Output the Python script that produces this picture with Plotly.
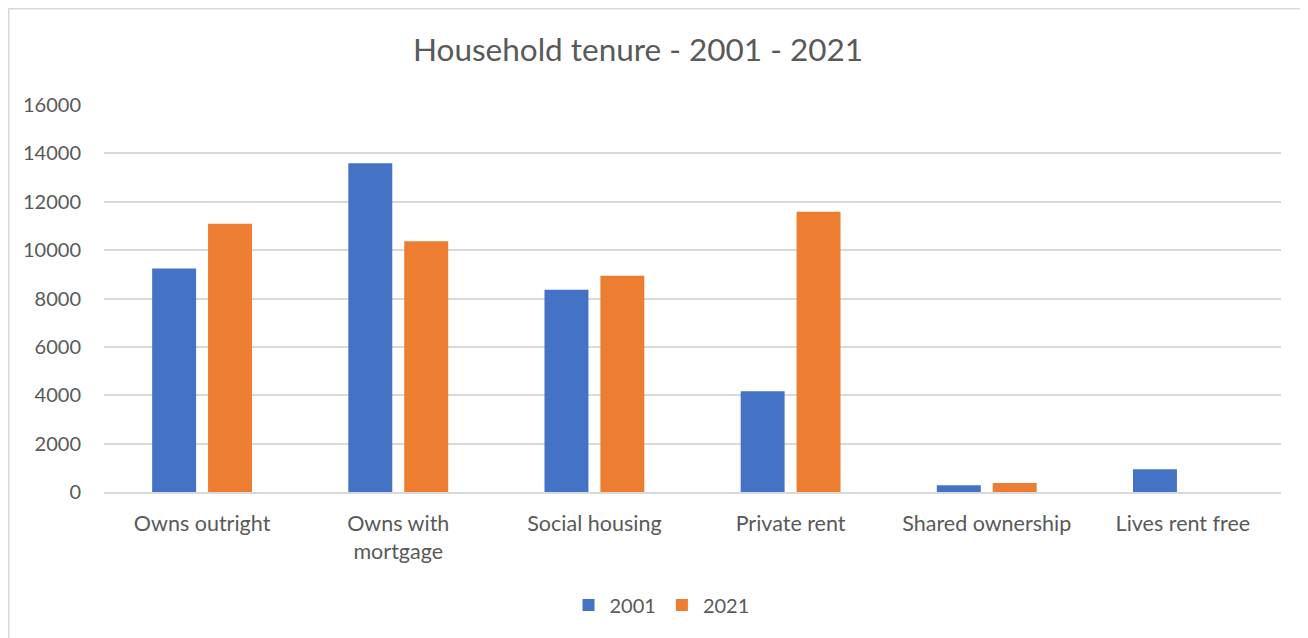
import plotly.graph_objects as go

categories = ["Owns outright", "Owns with<br>mortgage", "Social housing",
              "Private rent", "Shared ownership", "Lives rent free"]
values_2001 = [9240, 13590, 8360, 4165, 280, 940]
values_2021 = [11090, 10370, 8940, 11585, 370, 0]
y_ticks = [0, 2000, 4000, 6000, 8000, 10000, 12000, 14000, 16000]

BLUE = "#4472C4"
ORANGE = "#ED7D31"
TEXT = "#595959"
GRID = "#D9D9D9"
FONT = "Lato, 'Open Sans', sans-serif"

# page body has an 8px margin, so the figure is drawn 8px smaller
OFF = 8
W, H = 1308 - OFF, 638 - OFF
L, R, T, B = 104 - OFF, 27, 105 - OFF, 146
pw = W - L - R
ph = H - T - B


def px_x(p):
  return (p - OFF - L) / pw


def px_y(p):
  return (H - B - (p - OFF)) / ph


fig = go.Figure()
fig.add_trace(go.Bar(x=categories, y=values_2001, name="2001",
                     marker=dict(color=BLUE, line=dict(width=0))))
fig.add_trace(go.Bar(x=categories, y=values_2021, name="2021",
                     marker=dict(color=ORANGE, line=dict(width=0))))

fig.update_layout(
  width=W, height=H,
  margin=dict(l=L, r=R, t=T, b=B),
  paper_bgcolor="white", plot_bgcolor="white",
  font=dict(family=FONT, color=TEXT, size=20),
  title=dict(text="Household tenure - 2001 - 2021", xref="container",
             x=(638 - OFF) / W, xanchor="center",
             y=1 - (50 - OFF) / H, yanchor="middle",
             font=dict(size=31.5, color=TEXT, family=FONT)),
  barmode="group", bargap=0.43, bargroupgap=0.214,
  legend=dict(orientation="h", x=px_x(661), xanchor="center",
              y=px_y(605), yanchor="middle", font=dict(size=20, color=TEXT),
              itemwidth=32, traceorder="normal"),
  showlegend=True,
  shapes=[
    dict(type="line", xref="paper", yref="paper", x0=px_x(OFF), x1=px_x(1320),
         y0=px_y(OFF + 0.75), y1=px_y(OFF + 0.75), line=dict(color=GRID, width=1.5)),
    dict(type="line", xref="paper", yref="paper", x0=px_x(OFF + 0.75), x1=px_x(OFF + 0.75),
         y0=px_y(OFF), y1=px_y(650), line=dict(color=GRID, width=1.5)),
  ],
)

fig.update_xaxes(showgrid=False, showline=True, linecolor=GRID, linewidth=1.5,
                 ticks="", tickfont=dict(size=21.5, color=TEXT), ticklabelstandoff=11)
fig.update_yaxes(range=[0, 16000], tickvals=y_ticks, ticktext=[str(v) for v in y_ticks],
                 showgrid=True, gridcolor=GRID, gridwidth=1.5, zeroline=False,
                 showline=False, ticks="", tickfont=dict(size=20, color=TEXT),
                 ticklabelstandoff=22)

fig.write_html("out.html")
